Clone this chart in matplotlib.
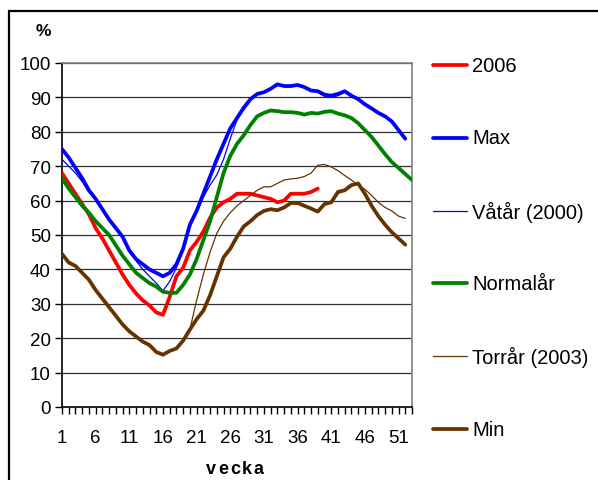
import matplotlib
matplotlib.use("Agg")
import matplotlib.pyplot as plt
from matplotlib.lines import Line2D
from matplotlib.patches import Rectangle
import numpy as np

plt.rcParams['font.family'] = ['Liberation Sans', 'DejaVu Sans']

# ---- data (percent, by week) ----
weeks_52 = list(range(1, 53))
weeks_53 = list(range(1, 54))
weeks_2006 = list(range(1, 40))

y2006 = [68, 65, 62, 59, 56, 52, 49, 45.5, 42, 38.5, 35.5, 33, 31, 29.5, 27.5, 26.8,
         32, 38, 40.5, 45.5, 48, 51, 55, 58, 59.5, 60.5, 62, 62, 62, 61.5, 61, 60.5,
         59.5, 60, 62, 62, 62, 62.5, 63.5]

ymax = [75, 72.5, 69.5, 66.5, 63, 60.5, 57.5, 54.5, 52, 49.5, 45.5, 43, 41.5, 40, 39, 38,
        39, 41.5, 46, 53, 57, 62, 67, 72, 76.5, 81, 84, 87, 89.5, 91, 91.5, 92.5,
        93.8, 93.3, 93.3, 93.6, 93, 92, 91.8, 90.8, 90.5, 91, 91.8, 90.5, 89.5, 88,
        86.8, 85.5, 84.5, 83, 80.5, 78]

yvat = [72, 70, 68, 65.5, 62.5, 60.5, 57.5, 54.5, 52, 49.5, 45.5, 42.5, 40, 38, 36, 33.8,
        36.5, 40.5, 45.5, 52.5, 56.5, 61, 64.5, 67.5, 72, 78, 83.5, 86.5, 89, 91, 91.5, 92.5,
        93.5, 93.2, 93.2, 93.5, 93, 92, 91.5, 90.3, 90, 90.5, 91.5, 90.3, 89.5, 88,
        86.8, 85.5, 84.5, 83, 80.5, 78]

ynorm = [66.5, 63.5, 61, 58.5, 56.5, 54, 52, 50, 47, 44, 41.5, 39, 37.5, 36, 35, 33.5,
         33.2, 33.2, 35.5, 38.5, 43, 48.5, 54, 61, 68, 73, 76.5, 79, 82, 84.5, 85.5, 86.2,
         86, 85.7, 85.7, 85.5, 85, 85.5, 85.3, 85.8, 86, 85.3, 84.8, 84, 82.5, 80.5,
         78.5, 76, 73.5, 71.2, 69.5, 67.7, 66]

ytorr = [44.5, 42, 41, 39, 37, 34, 31.5, 29, 26.5, 24, 22, 20.5, 19, 18, 16, 15.2,
         16.3, 17, 19.3, 22.5, 31, 38.5, 45, 50.5, 54, 56.5, 58.5, 60, 61.5, 63, 64, 64,
         65, 66, 66.3, 66.5, 67, 68, 70.3, 70.5, 69.8, 68.7, 67.3, 66, 64.5, 63.3,
         61.5, 59.5, 58, 57, 55.5, 54.8]

ymin = [44.5, 42, 41, 39, 37, 34, 31.5, 29, 26.5, 24, 22, 20.5, 19, 18, 16, 15.2,
        16.3, 17, 19.3, 22.5, 25.5, 28, 32.5, 38, 43.5, 46, 49.5, 52.5, 54, 55.8, 57, 57.5,
        57.2, 58, 59.3, 59.3, 58.5, 57.7, 56.8, 59, 59.5, 62.5, 63, 64.5, 65, 62,
        58.5, 55.5, 53, 50.8, 49, 47.2]

labels = ["2006", "Max", "Våtår (2000)", "Normalår", "Torrår (2003)", "Min"]
xticks = list(range(1, 52, 5))
yticks = list(range(0, 101, 10))

series = [
    (weeks_2006, y2006, '#FF0000', 2.7),
    (weeks_52, ymax, '#0000FF', 2.7),
    (weeks_52, yvat, '#0000FF', 0.9),
    (weeks_53, ynorm, '#008000', 2.7),
    (weeks_52, ytorr, '#663300', 0.9),
    (weeks_52, ymin, '#663300', 2.7),
]

W, H = 598, 481
fig = plt.figure(figsize=(W / 100, H / 100), dpi=100)
fig.patch.set_facecolor('white')

ax = fig.add_axes([62 / W, 1 - 408 / H, 350 / W, 344 / H])
ax.set_xlim(1, 53)
ax.set_ylim(0, 100)

for y in yticks[1:]:
    ax.axhline(y, color='#303030', lw=0.9, zorder=1)

order = [4, 2, 5, 3, 1, 0]
for i in order:
    x, y, c, lw = series[i]
    ax.plot(x, y, color=c, lw=lw, solid_capstyle='round', solid_joinstyle='round', zorder=3 + i)

ax.set_yticks(yticks)
ax.set_xticks(xticks)
ax.set_xticks(range(1, 54), minor=True)
ax.tick_params(axis='y', direction='out', length=5, width=1, pad=3, labelsize=13.5)
ax.tick_params(axis='x', which='both', direction='out', length=5, width=1, pad=11, labelsize=13.5)
for s in ['left', 'bottom']:
    ax.spines[s].set_color('black')
    ax.spines[s].set_linewidth(1.2)
for s in ['top', 'right']:
    ax.spines[s].set_color('#808080')
    ax.spines[s].set_linewidth(1.2)

# axis titles
fig.text(43 / W, 1 - 32 / H, "%", fontsize=12.5, fontweight='bold', ha='center', va='center')
for k, ch in enumerate("vecka"):
    fig.text((211 + k * 12) / W, 1 - 470 / H, ch, fontsize=13, fontweight='bold',
             ha='center', va='center')

# legend (manual)
leg_y = [66, 139, 212, 284, 357, 430]
for i, lab in enumerate(labels):
    x, y, c, lw = series[i]
    yy = 1 - leg_y[i] / H
    fig.add_artist(Line2D([433 / W, 467 / W], [yy, yy], color=c, lw=lw, solid_capstyle='round'))
    fig.text(472 / W, yy, lab, fontsize=14.5, ha='left', va='center')

# outer frame (cropped at right and bottom)
fig.add_artist(Rectangle((9 / W, -0.05), 1.2, 1 - 12 / H + 0.05, transform=fig.transFigure,
                         fill=False, edgecolor='black', lw=1.6))

fig.savefig("out.png", dpi=100, facecolor='white')
